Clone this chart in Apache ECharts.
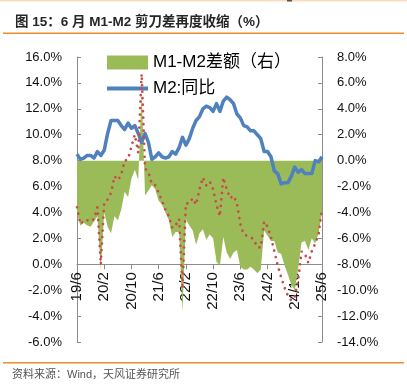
<!DOCTYPE html>
<html><head><meta charset="utf-8">
<script src="https://cdn.jsdelivr.net/npm/echarts@6/dist/echarts.min.js"></script>
<style>html,body{margin:0;padding:0;background:#fff}#c{width:407px;height:391px}</style>
</head><body><div id="c"></div>
<script>
// Monthly categories 2019/6 .. 2025/6
const months = [];
for (let y = 19; y <= 25; y++) {
  for (let m = 1; m <= 12; m++) {
    if ((y === 19 && m < 6) || (y === 25 && m > 6)) continue;
    months.push(y + '/' + m);
  }
}
// M2 同比 (%), left axis
const m2 = [
  8.5, 8.1, 8.2, 8.4, 8.4, 8.2, 8.7,
  8.4, 8.8, 10.1, 11.1, 11.1, 11.1, 10.7, 10.4, 10.9, 10.5, 10.7, 10.1,
  9.4, 10.1, 9.4, 8.1, 8.3, 8.6, 8.3, 8.2, 8.3, 8.7, 8.5, 9.0,
  9.8, 9.2, 9.7, 10.5, 11.1, 11.4, 12.0, 12.2, 12.1, 11.8, 12.4, 11.8,
  12.6, 12.9, 12.7, 12.4, 11.6, 11.3, 10.7, 10.6, 10.3, 10.3, 10.0, 9.7,
  8.7, 8.7, 8.3, 7.2, 7.0, 6.2, 6.3, 6.3, 6.8, 7.5, 7.1, 7.3,
  7.0, 7.0, 7.0, 8.0, 7.9, 8.3
];
// M1 同比 (%), left axis (red dotted)
const m1 = [
  4.4, 3.1, 3.4, 3.4, 3.3, 3.5, 4.4,
  0.0, 4.8, 5.0, 5.5, 6.8, 6.5, 6.9, 8.0, 8.1, 9.1, 10.0, 8.6,
  14.7, 7.4, 7.1, 6.2, 6.1, 5.5, 4.9, 4.2, 3.7, 2.8, 3.0, 3.5,
  -1.9, 4.7, 4.7, 5.1, 4.6, 5.8, 6.7, 6.1, 6.4, 5.8, 4.6, 3.7,
  6.7, 5.8, 5.1, 5.3, 4.7, 3.1, 2.3, 2.2, 2.1, 1.9, 1.3, 1.3,
  3.3, 2.9, 2.1, 1.0, -0.1, -1.0, -1.8, -2.45, -2.8, -2.5, -1.2, 1.0,
  0.8, 0.1, 1.0, 1.6, 2.3, 4.3
];
// M1-M2 差额 (%), right axis (green area)
const gap = [
  -4.1, -5.0, -4.8, -5.0, -5.1, -4.7, -4.3,
  -8.4, -4.0, -5.1, -5.6, -4.3, -4.6, -3.8, -2.4, -2.8, -1.4, -0.7, -1.5,
  5.3, -2.7, -2.3, -1.9, -2.2, -3.1, -3.4, -4.0, -4.6, -5.9, -5.5, -5.5,
  -11.7, -4.5, -5.0, -5.4, -6.5, -5.6, -5.3, -6.1, -5.7, -6.0, -7.8, -8.1,
  -5.9, -7.1, -7.6, -7.1, -6.9, -8.2, -8.4, -8.4, -8.2, -8.4, -8.7, -8.4,
  -5.4, -5.8, -6.2, -6.2, -7.1, -7.2, -8.1, -8.8, -9.6, -10.0, -8.3, -6.3,
  -6.2, -6.9, -6.0, -6.4, -5.6, -4.0
];
const leftTicks = { min: -6, max: 16, interval: 2 };
const rightTicks = { min: -14, max: 8, interval: 2 };

const FONT = '"Liberation Sans", "Noto Sans CJK SC", sans-serif';
const chart = echarts.init(document.getElementById('c'), null, { renderer: 'canvas' });
const axisGray = '#8c8c8c';
// grid geometry: plot from y=57 (top) to y=342 (bottom); x axis sits at left value 0
const gridTop = 57, gridBottomPx = 342;
const zeroOffset = -(gridBottomPx - gridTop) * (0 - leftTicks.min) / (leftTicks.max - leftTicks.min);
chart.setOption({
  animation: false,
  backgroundColor: '#fff',
  textStyle: { fontFamily: FONT },
  graphic: [
    { type: 'rect', shape: { x: 0, y: 0, width: 407, height: 1.5 }, style: { fill: '#f9dcc0' } },
    { type: 'rect', shape: { x: 287, y: 0, width: 5, height: 1.5 }, style: { fill: '#555' } },
    { type: 'text', left: 15, top: 16, style: { text: '图 15：6 月 M1-M2 剪刀差再度收缩（%）', font: 'bold 13.5px ' + FONT, fill: '#262626' } },
    { type: 'rect', shape: { x: 3, y: 32.5, width: 401, height: 1.5 }, style: { fill: '#f08c2c' } },
    { type: 'rect', shape: { x: 3, y: 362, width: 401, height: 1.5 }, style: { fill: '#f08c2c' } },
    { type: 'text', left: 12, top: 369, style: { text: '资料来源：Wind，天风证券研究所', font: '11px ' + FONT, fill: '#555' } }
  ],
  grid: { left: 77, right: 85, top: gridTop, bottom: 391 - gridBottomPx, outerBoundsMode: 'none' },
  legend: {
    orient: 'vertical', left: 102, top: 49, itemWidth: 41, itemHeight: 14, itemGap: 9,
    symbolKeepAspect: true,
    textStyle: { fontSize: 17, color: '#000', fontFamily: FONT },
    data: [
      { name: 'M1-M2差额（右）', icon: 'rect' },
      { name: 'M2:同比', icon: 'path://M0,0L41,0L41,4L0,4Z' }
    ]
  },
  xAxis: {
    type: 'category', data: months, boundaryGap: false,
    offset: zeroOffset,
    axisLine: { onZero: false, lineStyle: { color: axisGray, width: 1 } },
    axisTick: { show: true, interval: 7, length: 5, lineStyle: { color: axisGray } },
    axisLabel: { interval: 7, rotate: 90, margin: 8, fontSize: 15, color: '#111', fontFamily: FONT },
    splitLine: { show: false }
  },
  yAxis: [
    {
      type: 'value', min: leftTicks.min, max: leftTicks.max, interval: leftTicks.interval,
      axisLine: { show: true, lineStyle: { color: axisGray } },
      axisTick: { show: true, inside: true, length: 4, lineStyle: { color: axisGray } },
      axisLabel: { formatter: v => v.toFixed(1) + '%', fontSize: 13, color: '#111', margin: 15, fontFamily: FONT },
      splitLine: { show: false }
    },
    {
      type: 'value', min: rightTicks.min, max: rightTicks.max, interval: rightTicks.interval, position: 'right',
      axisLine: { show: true, lineStyle: { color: axisGray } },
      axisTick: { show: true, inside: true, length: 4, lineStyle: { color: axisGray } },
      axisLabel: { formatter: v => v.toFixed(1) + '%', fontSize: 13, color: '#111', margin: 15, fontFamily: FONT },
      splitLine: { show: false }
    }
  ],
  series: [
    {
      name: 'M1-M2差额（右）', type: 'line', yAxisIndex: 1, data: gap,
      symbol: 'none', color: '#9BBB59',
      lineStyle: { width: 0, color: '#9BBB59' },
      areaStyle: { color: '#9BBB59', opacity: 1 }, z: 1
    },
    {
      name: 'M2:同比', type: 'line', yAxisIndex: 0, data: m2,
      symbol: 'none', color: '#4F81BD',
      lineStyle: { width: 3.5, color: '#4F81BD', join: 'round' }, z: 3
    },
    {
      name: 'M1:同比', type: 'line', yAxisIndex: 0, data: m1,
      symbol: 'none', color: '#C0504D',
      lineStyle: { width: 2.7, color: '#C94A4A', type: [0.01, 6.5], cap: 'round' }, z: 4
    }
  ]
});
</script></body></html>
